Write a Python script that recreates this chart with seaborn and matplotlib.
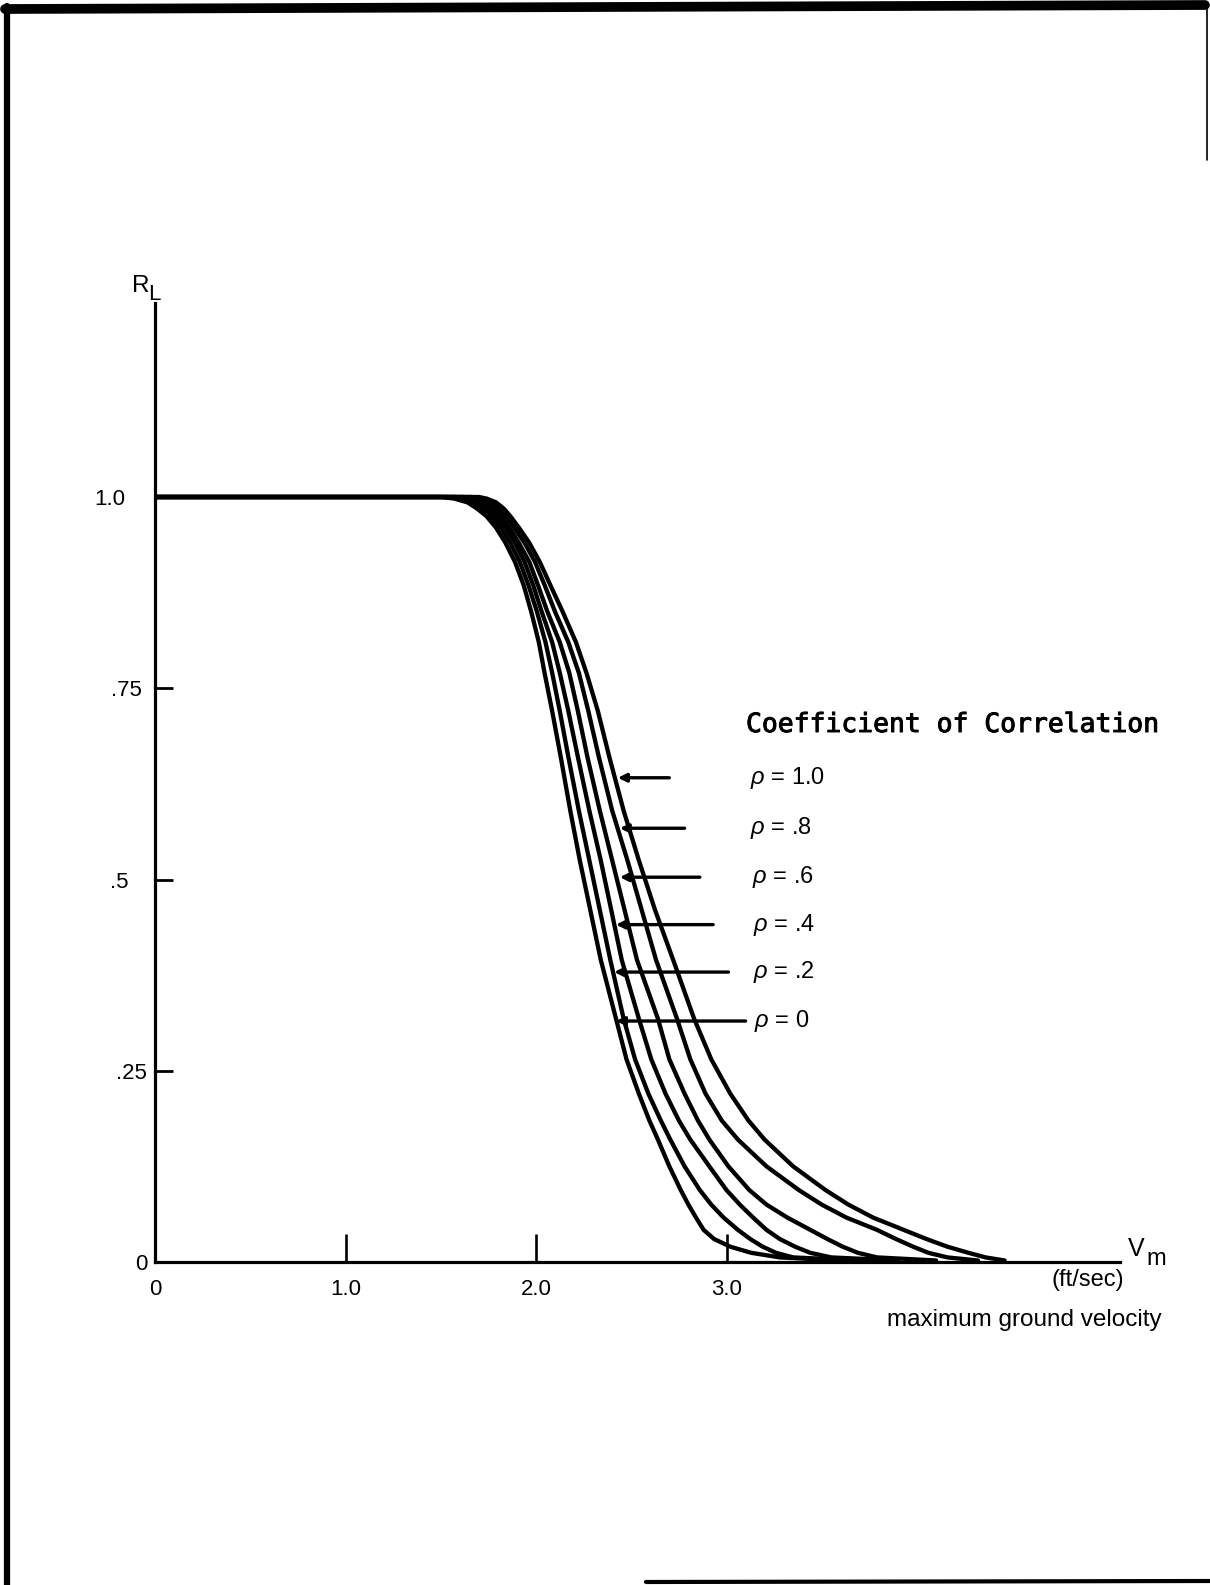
import numpy as np
import pandas as pd
import matplotlib
matplotlib.use("Agg")
import matplotlib.pyplot as plt
import matplotlib.patheffects as pe
import seaborn as sns
from matplotlib.lines import Line2D
from matplotlib.transforms import ScaledTranslation

# ---------------- data ----------------
# common R_L levels at which the velocity of every curve was read
R_levels = [1.0, 1.0, 0.998, 0.993, 0.985, 0.975, 0.96, 0.94, 0.915, 0.885,
            0.85, 0.81, 0.77, 0.72, 0.66, 0.59, 0.525, 0.46, 0.395, 0.318,
            0.265, 0.22, 0.185, 0.16, 0.125, 0.094, 0.075, 0.058, 0.042,
            0.03, 0.02, 0.012, 0.006, 0.002]

v_rho_0  = [0.0, 1.50, 1.57, 1.64, 1.69, 1.74, 1.79, 1.84, 1.89, 1.935,
            1.975, 2.015, 2.045, 2.085, 2.13, 2.18, 2.23, 2.285, 2.34, 2.42,
            2.475, 2.54, 2.595, 2.64, 2.70, 2.76, 2.80, 2.84, 2.88,
            2.935, 3.02, 3.13, 3.28, 3.60]
v_rho_02 = [0.0, 1.54, 1.60, 1.67, 1.72, 1.765, 1.815, 1.865, 1.915, 1.96,
            2.005, 2.05, 2.085, 2.125, 2.17, 2.225, 2.28, 2.335, 2.39, 2.46,
            2.52, 2.59, 2.655, 2.705, 2.78, 2.86, 2.92, 2.985, 3.06,
            3.125, 3.19, 3.26, 3.35, 3.70]
v_rho_04 = [0.0, 1.58, 1.63, 1.70, 1.75, 1.79, 1.84, 1.89, 1.94, 1.985,
            2.03, 2.085, 2.125, 2.17, 2.22, 2.28, 2.34, 2.395, 2.45, 2.54,
            2.605, 2.68, 2.75, 2.81, 2.91, 3.00, 3.07, 3.14, 3.21,
            3.28, 3.36, 3.44, 3.55, 3.90]
v_rho_06 = [0.0, 1.62, 1.67, 1.73, 1.775, 1.815, 1.86, 1.91, 1.965, 2.01,
            2.06, 2.125, 2.175, 2.22, 2.27, 2.335, 2.40, 2.465, 2.53, 2.64,
            2.70, 2.78, 2.85, 2.91, 3.01, 3.12, 3.21, 3.32, 3.44,
            3.53, 3.61, 3.69, 3.79, 4.10]
v_rho_08 = [0.0, 1.66, 1.70, 1.76, 1.80, 1.84, 1.885, 1.94, 1.995, 2.045,
            2.10, 2.17, 2.225, 2.275, 2.33, 2.40, 2.48, 2.555, 2.63, 2.74,
            2.81, 2.89, 2.975, 3.06, 3.21, 3.38, 3.50, 3.63, 3.79,
            3.89, 3.98, 4.06, 4.16, 4.32]
v_rho_10 = [0.0, 1.70, 1.74, 1.79, 1.83, 1.865, 1.91, 1.965, 2.02, 2.075,
            2.14, 2.21, 2.265, 2.325, 2.385, 2.46, 2.54, 2.625, 2.72, 2.83,
            2.92, 3.02, 3.115, 3.20, 3.35, 3.52, 3.64, 3.77, 3.93,
            4.05, 4.16, 4.27, 4.36, 4.46]

rho_labels = ["0", ".2", ".4", ".6", ".8", "1.0"]
curves = [v_rho_0, v_rho_02, v_rho_04, v_rho_06, v_rho_08, v_rho_10]

# label arrows: R level of each arrow, arrow head (on curve) and tail velocity
arrow_R      = [0.315, 0.379, 0.441, 0.503, 0.567, 0.633]
arrow_head_v = [2.42, 2.41, 2.42, 2.44, 2.44, 2.43]
arrow_tail_v = [3.10, 3.01, 2.93, 2.86, 2.78, 2.70]
label_v      = [3.145, 3.14, 3.14, 3.135, 3.125, 3.125]

x_ticks = [0, 1.0, 2.0, 3.0]
x_tick_labels = ["0", "1.0", "2.0", "3.0"]
y_ticks = [0, 0.25, 0.5, 0.75, 1.0]
y_tick_labels = ["0", ".25", ".5", ".75", "1.0"]

# ---------------- styling ----------------
sns.set_style("white")
plt.rcParams["font.family"] = ["Liberation Sans", "DejaVu Sans"]
plt.rcParams["mathtext.fontset"] = "custom"
plt.rcParams["mathtext.rm"] = "Liberation Sans"
plt.rcParams["mathtext.it"] = "Liberation Sans:italic"

W, H = 1210, 1585
fig = plt.figure(figsize=(W / 100, H / 100), dpi=100)
fig.patch.set_facecolor("white")

x0_px, y0_px = 155, 1262
px_per_x, px_per_y = 190.5, 765
x_right_px, y_top_px = 1120, 303
ax = fig.add_axes([x0_px / W, (H - y0_px) / H,
                   (x_right_px - x0_px) / W, (y0_px - y_top_px) / H])
ax.set_facecolor("white")

rows = []
for lab, vs in zip(rho_labels, curves):
    for v, r in zip(vs, R_levels):
        rows.append({"rho": lab, "v": v, "R": r})
df = pd.DataFrame(rows)

sns.lineplot(data=df, x="v", y="R", hue="rho", units="rho", estimator=None,
             sort=False, palette=["black"] * 6, linewidth=3.1, legend=False,
             ax=ax, solid_capstyle="round", solid_joinstyle="round")

ax.set_xlim(0, (x_right_px - x0_px) / px_per_x)
ax.set_ylim(0, (y0_px - y_top_px) / px_per_y)
ax.set_xlabel("")
ax.set_ylabel("")

for s in ["top", "right"]:
    ax.spines[s].set_visible(False)
for s in ["left", "bottom"]:
    ax.spines[s].set_linewidth(2.3)
    ax.spines[s].set_color("black")

ax.set_xticks(x_ticks, x_tick_labels)
ax.set_yticks(y_ticks, y_tick_labels)
ax.tick_params(axis="x", bottom=True, direction="in", length=20, width=1.9,
               pad=12, labelsize=16, colors="black")
ax.tick_params(axis="y", left=True, direction="in", length=13, width=2.0,
               pad=16, labelsize=16, colors="black")
# hand-lettered labels in the reference are not aligned: small shifts (px)
y_label_dx = [15, 14, -4, 9, -8]
for lab, dx in zip(ax.get_yticklabels(), y_label_dx):
    lab.set_transform(lab.get_transform() +
                      ScaledTranslation(dx / 100, 0, fig.dpi_scale_trans))

# label arrows and rho labels
for lab, r, hv, tv, lv in zip(rho_labels, arrow_R, arrow_head_v, arrow_tail_v, label_v):
    ax.annotate("", xy=(hv, r), xytext=(tv, r),
                arrowprops=dict(arrowstyle="-|>", lw=2.4, color="black",
                                mutation_scale=12, shrinkA=0, shrinkB=0))
    ax.text(lv, r, r"$\rho$ = " + lab, fontsize=17, ha="left", va="center",
            color="black")


def fx(x):
    return x / W


def fy(y):
    return 1 - y / H


fig.text(fx(746), fy(725), "Coefficient of Correlation", fontsize=19,
         family="DejaVu Sans Mono", ha="left", va="center", color="black",
         path_effects=[pe.withStroke(linewidth=0.7, foreground="black")])
fig.text(fx(132), fy(286), "R", fontsize=17.5, ha="left", va="center",
         color="black")
fig.text(fx(148), fy(295), "L", fontsize=16, ha="left", va="center",
         color="black")
fig.text(fx(1128), fy(1249), "V", fontsize=18, ha="left", va="center",
         color="black")
fig.text(fx(1146), fy(1259), "m", fontsize=17, ha="left", va="center",
         color="black")
fig.text(fx(1088), fy(1280), "(ft/sec)", fontsize=17, ha="center",
         va="center", color="black")
fig.text(fx(1024), fy(1320), "maximum ground velocity", fontsize=17.5,
         ha="center", va="center", color="black")

# scanned page frame
frame = [((5, 1205), (9, 5), 7.0),
         ((7, 7), (6, 1585), 4.5),
         ((1207, 1207), (5, 160), 1.2),
         ((646, 1210), (1582, 1581), 3.0)]
for (xs, ys, lw) in frame:
    fig.add_artist(Line2D([fx(xs[0]), fx(xs[1])], [fy(ys[0]), fy(ys[1])],
                          transform=fig.transFigure, color="black", lw=lw))

fig.savefig("out.png", dpi=100, facecolor="white")
